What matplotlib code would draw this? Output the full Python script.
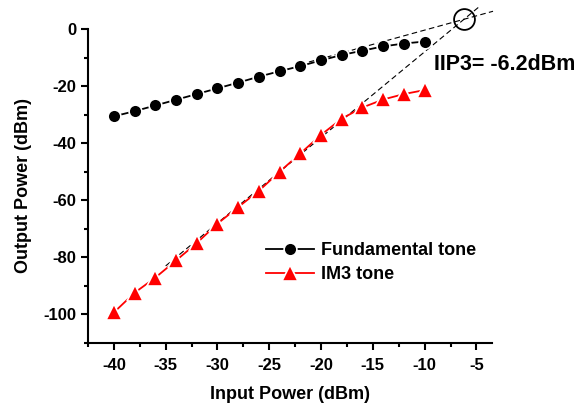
import matplotlib
matplotlib.use('Agg')
import matplotlib.pyplot as plt
from matplotlib.ticker import MultipleLocator

plt.rcParams['font.family'] = ['Liberation Sans', 'DejaVu Sans']
plt.rcParams['font.weight'] = 'bold'
plt.rcParams['axes.unicode_minus'] = False

# input power sweep (dBm)
pin = [-40, -38, -36, -34, -32, -30, -28, -26, -24, -22, -20, -18, -16, -14, -12, -10]
# measured output powers (dBm)
fund = [-30.6, -28.8, -26.8, -24.8, -22.8, -20.8, -18.8, -16.7, -14.8, -13.0,
        -11.0, -9.1, -7.6, -6.1, -5.1, -4.4]
im3 = [-99.3, -92.4, -87.1, -81.1, -75.0, -68.2, -62.4, -56.7, -50.0, -43.6,
       -37.1, -31.4, -27.5, -24.7, -22.8, -21.4]

iip3_x = -6.2
iip3_y = 3.4
fund_fit_x = [-22, -3.4]
im3_fit_x = [-35, -4.7]
fund_fit_y = [iip3_y + (v - iip3_x) for v in fund_fit_x]
im3_fit_y = [iip3_y + 3 * (v - iip3_x) for v in im3_fit_x]

fig = plt.figure(figsize=(5.85, 4.08), dpi=100)
ax = fig.add_axes([0.1504, 0.1593, 0.6906, 0.7697])

ax.plot(pin, fund, color='black', lw=1.3, marker='o', ms=9.2,
        mfc='black', mec='white', mew=1.2, label='Fundamental tone', zorder=3)
ax.plot(pin, im3, color='red', lw=1.3, marker='^', ms=11,
        mfc='red', mec='white', mew=1.2, label='IM3 tone', zorder=3)

# extrapolated fit lines
ax.plot(fund_fit_x, fund_fit_y, color='black', lw=0.8, ls=(0, (5, 3)),
        clip_on=False, zorder=2)
ax.plot(im3_fit_x, im3_fit_y, color='black', lw=0.8, ls=(0, (5, 3)),
        clip_on=False, zorder=2)
ax.plot([iip3_x], [iip3_y], marker='o', ms=15, mfc='none', mec='black',
        mew=1.3, clip_on=False, zorder=4)

ax.text(-9.1, -12.4, 'IIP3= -6.2dBm', fontsize=15.5, fontweight='bold',
        ha='left', va='center')

ax.set_xlim(-42.5, -3.5)
ax.set_ylim(-110, 0)
ax.xaxis.set_major_locator(MultipleLocator(5))
ax.xaxis.set_minor_locator(MultipleLocator(2.5))
ax.yaxis.set_major_locator(MultipleLocator(20))
ax.yaxis.set_minor_locator(MultipleLocator(10))
ax.set_xticks([-40, -35, -30, -25, -20, -15, -10, -5])

for s in ['top', 'right']:
    ax.spines[s].set_visible(False)
for s in ['left', 'bottom']:
    ax.spines[s].set_linewidth(1.5)
ax.tick_params(which='major', direction='out', length=5, width=1.5,
               labelsize=12)
ax.tick_params(which='minor', direction='out', length=3, width=1.5)
ax.tick_params(axis='x', pad=6)
for lbl in ax.get_xticklabels() + ax.get_yticklabels():
    lbl.set_fontweight('bold')

ax.set_xlabel('Input Power (dBm)', fontsize=13, fontweight='bold', labelpad=9)
ax.set_ylabel('Output Power (dBm)', fontsize=13, fontweight='bold', labelpad=8)

leg = ax.legend(loc='upper left', bbox_to_anchor=(0.44, 0.322), frameon=False,
                prop={'size': 13, 'weight': 'bold'}, handlelength=2.7,
                handletextpad=0.35, borderaxespad=0, borderpad=0,
                labelspacing=0.4)

fig.savefig('out.png', dpi=100)
